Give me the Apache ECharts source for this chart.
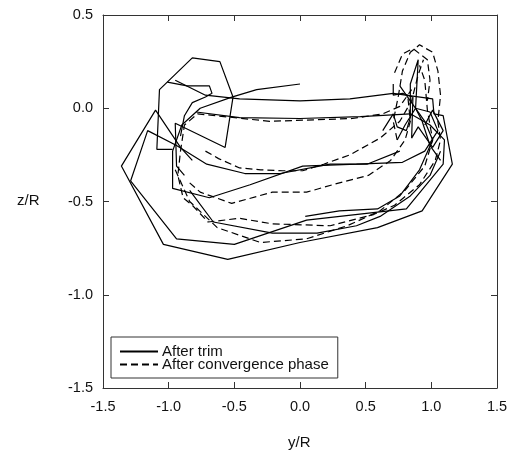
<!DOCTYPE html>
<html>
<head>
<meta charset="utf-8">
<script src="https://cdn.jsdelivr.net/npm/echarts@6/dist/echarts.min.js"></script>
<style>
    html, body { margin: 0; padding: 0; background: #fff; }
    #chart { width: 513px; height: 456px; }
</style>
</head>
<body>
<div id="chart"></div>
<script>
    // 坐标轴刻度
    var xTicks = [-1.5, -1.0, -0.5, 0.0, 0.5, 1.0, 1.5];
    var yTicks = [-1.5, -1.0, -0.5, 0.0, 0.5];

    // After trim (实线)，每段 [y/R, z/R]
    var trimA = [[0.00,0.13],[-0.33,0.10],[-0.52,0.06],[-0.76,0.00],[-0.90,-0.09],[-0.97,-0.23],[-0.97,-0.43],
        [-0.69,-0.48],[-0.38,-0.41],[0.02,-0.31],[0.43,-0.30],[0.78,-0.29],[0.95,-0.23],[1.05,-0.12],
        [0.99,-0.02],[0.88,0.00],[0.80,-0.09],[0.74,-0.17]];
    var trimB = [[-0.95,0.15],[-0.72,0.07],[-0.46,0.05],[0.00,0.04],[0.38,0.05],[0.71,0.08],[1.01,0.05],
        [1.02,-0.03],[1.09,-0.04],[1.16,-0.30],[0.93,-0.55],[0.59,-0.64],[0.00,-0.72],[-0.55,-0.81],
        [-1.04,-0.73],[-1.36,-0.31],[-1.10,-0.01],[-0.91,-0.21],[-0.82,-0.28]];
    var trimC = [[-0.79,-0.02],[-0.46,-0.05],[0.00,-0.055],[0.46,-0.045],[0.84,-0.03],[0.99,-0.09],[1.10,-0.17],
        [1.09,-0.30],[0.81,-0.54],[0.05,-0.60],[-0.50,-0.73],[-0.94,-0.70],[-1.29,-0.39],[-1.16,-0.12],
        [-0.94,-0.20],[-0.71,-0.30],[-0.42,-0.35],[-0.15,-0.35],[0.23,-0.30],[0.51,-0.30],[0.76,-0.23]];
    var trimD = [[-0.97,-0.22],[-1.09,-0.22],[-1.07,0.10],[-0.82,0.27],[-0.61,0.25],[-0.51,0.06],[-0.57,-0.21],
        [-0.95,-0.08],[-0.94,-0.31],[-0.88,-0.36]];
    var trimE = [[-1.01,0.14],[-0.86,0.12],[-0.69,0.12],[-0.67,0.08],[-0.72,0.06],[-0.82,0.03],[-0.88,-0.04],
        [-0.91,-0.15]];
    var trimF = [[0.04,-0.58],[0.30,-0.55],[0.59,-0.54],[0.76,-0.47],[0.91,-0.33],[1.01,-0.17],[0.95,-0.07],
        [0.84,0.04],[0.76,0.12]];
    var trimG = [[-0.84,-0.44],[-0.66,-0.61],[-0.21,-0.67],[0.13,-0.67],[0.43,-0.63],[0.61,-0.58],[0.84,-0.47],
        [0.99,-0.36],[1.07,-0.23]];
    var trimH = [[0.63,-0.12],[0.71,-0.03],[0.74,-0.10],[0.81,-0.12],[0.84,-0.05],[0.84,0.13],[0.90,0.26],
        [0.88,0.00],[0.93,-0.07],[0.99,-0.20],[1.07,-0.28]];
    var trimI = [[0.71,0.13],[0.71,0.07],[0.78,0.08],[0.86,0.06],[0.85,-0.16],[0.90,-0.10],[1.01,-0.21],
        [1.09,-0.12],[1.01,-0.01],[0.95,-0.09]];

    // After convergence phase (虚线)
    var convA = [[0.74,-0.17],[0.71,-0.07],[0.75,0.07],[0.78,0.20],[0.84,0.30],[0.91,0.34],[1.01,0.30],
        [1.05,0.20],[1.07,0.07],[1.05,-0.07],[1.07,-0.17],[1.03,-0.28],[0.91,-0.41],[0.72,-0.52],[0.56,-0.57],
        [0.23,-0.63],[-0.21,-0.62],[-0.46,-0.59],[-0.70,-0.61],[-0.82,-0.52],[-0.89,-0.48],[-0.93,-0.36],
        [-0.91,-0.23],[-0.88,-0.09],[-0.78,-0.03],[-0.23,-0.07],[0.40,-0.055],[0.63,-0.03],[0.76,0.01],[0.85,0.10]];
    var convB = [[-0.72,-0.23],[-0.62,-0.27],[-0.46,-0.32],[-0.30,-0.33],[-0.13,-0.335],[0.02,-0.335],
        [0.18,-0.30],[0.38,-0.25],[0.61,-0.16],[0.76,-0.07],[0.85,0.04],[0.90,0.18],[0.94,0.26]];
    var convC = [[-0.84,-0.40],[-0.76,-0.45],[-0.52,-0.51],[-0.21,-0.45],[0.05,-0.45],[0.30,-0.40],[0.52,-0.36],
        [0.69,-0.28],[0.80,-0.17],[0.84,-0.07],[0.82,0.07]];
    var convD = [[-0.95,-0.33],[-0.84,-0.50],[-0.63,-0.64],[-0.30,-0.72],[0.05,-0.70],[0.36,-0.63],[0.61,-0.55],
        [0.80,-0.44],[0.95,-0.31],[1.01,-0.17],[0.97,-0.01],[0.95,0.15],[0.91,0.23]];
    var convE = [[0.72,0.19],[0.78,0.29],[0.86,0.32],[0.97,0.26],[0.99,0.15],[0.97,0.04]];

    var trimSegs = [trimA, trimB, trimC, trimD, trimE, trimF, trimG, trimH, trimI];
    var convSegs = [convA, convB, convC, convD, convE];

    var fontFamily = '"Liberation Sans", Arial, Helvetica, sans-serif';

    var series = [];
    trimSegs.forEach(function (seg) {
        series.push({
            name: 'After trim', type: 'line', data: seg, symbol: 'none', silent: true,
            lineStyle: { color: '#000', width: 1.2, type: 'solid' }, itemStyle: { color: '#000' }
        });
    });
    convSegs.forEach(function (seg) {
        series.push({
            name: 'After convergence phase', type: 'line', data: seg, symbol: 'none', silent: true,
            lineStyle: { color: '#000', width: 1.2, type: [7, 4] }, itemStyle: { color: '#000' }
        });
    });

    function fmt(v) { return v.toFixed(1); }

    var axisLine = { show: true, onZero: false, lineStyle: { color: '#333', width: 1 } };
    var axisTick = { show: true, inside: true, length: 6, lineStyle: { color: '#333' } };

    var myChart = echarts.init(document.getElementById('chart'));
    var option = {
        animation: false,
        backgroundColor: '#fff',
        grid: { left: 103, right: 16, top: 15, bottom: 68, containLabel: false },
        xAxis: [
            {
                type: 'value', min: xTicks[0], max: xTicks[xTicks.length - 1], interval: 0.5,
                position: 'bottom', axisLine: axisLine, axisTick: axisTick, splitLine: { show: false },
                axisLabel: { formatter: fmt, color: '#111', fontSize: 14.5, fontFamily: fontFamily, margin: 11 }
            },
            {
                type: 'value', min: xTicks[0], max: xTicks[xTicks.length - 1], interval: 0.5,
                position: 'top', axisLine: axisLine, axisTick: axisTick, splitLine: { show: false },
                axisLabel: { show: false }
            }
        ],
        yAxis: [
            {
                type: 'value', min: yTicks[0], max: yTicks[yTicks.length - 1], interval: 0.5,
                position: 'left', axisLine: axisLine, axisTick: axisTick, splitLine: { show: false },
                axisLabel: { formatter: fmt, color: '#111', fontSize: 14.5, fontFamily: fontFamily, margin: 10 }
            },
            {
                type: 'value', min: yTicks[0], max: yTicks[yTicks.length - 1], interval: 0.5,
                position: 'right', axisLine: axisLine, axisTick: axisTick, splitLine: { show: false },
                axisLabel: { show: false }
            }
        ],
        legend: {
            data: ['After trim', 'After convergence phase'],
            orient: 'vertical',
            left: 111, top: 337,
            padding: [7, 9, 6, 8],
            itemGap: -2,
            itemWidth: 38, itemHeight: 13,
            selectedMode: false,
            borderColor: '#333', borderWidth: 1,
            backgroundColor: '#fff',
            itemStyle: { color: 'rgba(0,0,0,0)', borderColor: 'rgba(0,0,0,0)', borderWidth: 0 },
            textStyle: { color: '#111', fontSize: 15, fontFamily: fontFamily, lineHeight: 13, padding: [0, 0, 0, -1] }
        },
        graphic: [
            { type: 'text', left: 17, top: 193, style: { text: 'z/R', fontSize: 15, fontFamily: fontFamily, fill: '#111' } },
            { type: 'text', left: 288, top: 435, style: { text: 'y/R', fontSize: 15, fontFamily: fontFamily, fill: '#111' } }
        ],
        series: series
    };
    myChart.setOption(option);
</script>
</body>
</html>
